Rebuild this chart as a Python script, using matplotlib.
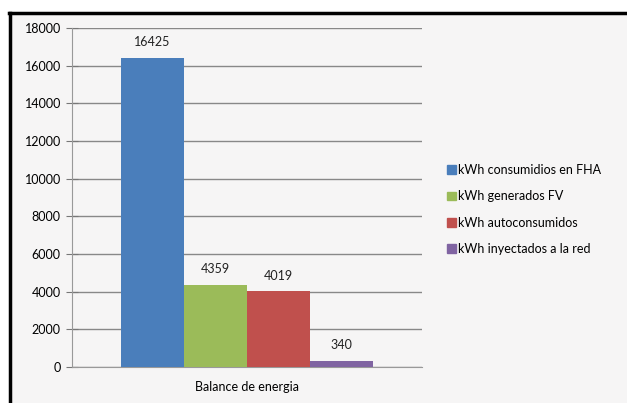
import numpy as np
import matplotlib.pyplot as plt
from matplotlib.lines import Line2D

categoria = 'Balance de energia'
series = ['kWh consumidios en FHA', 'kWh generados FV', 'kWh autoconsumidos', 'kWh inyectados a la red']
valores = [16425, 4359, 4019, 340]
colores = ['#4a7ebb', '#9bbb59', '#c0504d', '#8064a2']

plt.rcParams['font.family'] = ['Lato', 'DejaVu Sans']

fig = plt.figure(figsize=(6.27, 4.03), dpi=100)
fig.patch.set_facecolor('#f6f5f5')
ax = fig.add_axes([0.1148, 0.0893, 0.558, 0.8412])
ax.set_facecolor('#f6f5f5')

w = 0.18
x = (np.arange(len(valores)) - 1.5) * w
bars = ax.bar(x, valores, width=w, color=colores, label=series, zorder=3)
for xi, v in zip(x, valores):
    ax.text(xi, v + 500, str(v), ha='center', va='bottom', fontsize=9, color='#222222')

ax.set_xlim(-0.5, 0.5)
ax.set_ylim(0, 18000)
ax.set_yticks(np.arange(0, 18001, 2000))
ax.set_xticks([0])
ax.set_xticklabels([categoria])
ax.tick_params(axis='x', length=0, labelsize=9, pad=10)
ax.tick_params(axis='y', length=8, direction='inout', labelsize=9, color='#777777', pad=4)
ax.yaxis.grid(True, color='#888888', linewidth=1, zorder=0)
for s in ['top', 'right']:
    ax.spines[s].set_visible(False)
for s in ['left', 'bottom']:
    ax.spines[s].set_color('#999999')

handles = [plt.Rectangle((0, 0), 1, 1, color=c) for c in colores]
fig.legend(handles, series, loc='center left', bbox_to_anchor=(0.695, 0.48),
           frameon=False, fontsize=9, handlelength=0.7, handleheight=0.7,
           handletextpad=0.2, labelspacing=1.15)

# black frame at top and left
fig.add_artist(Line2D([0.015, 1], [0.968, 0.968], color='black', lw=2.5, transform=fig.transFigure))
fig.add_artist(Line2D([0.016, 0.016], [0, 0.968], color='black', lw=2.5, transform=fig.transFigure))
fig.add_artist(plt.Rectangle((0, 0.972), 1, 0.03, color='white', transform=fig.transFigure))
fig.add_artist(plt.Rectangle((0, 0), 0.013, 1, color='white', transform=fig.transFigure))

fig.savefig('out.png', dpi=100, facecolor=fig.get_facecolor())
